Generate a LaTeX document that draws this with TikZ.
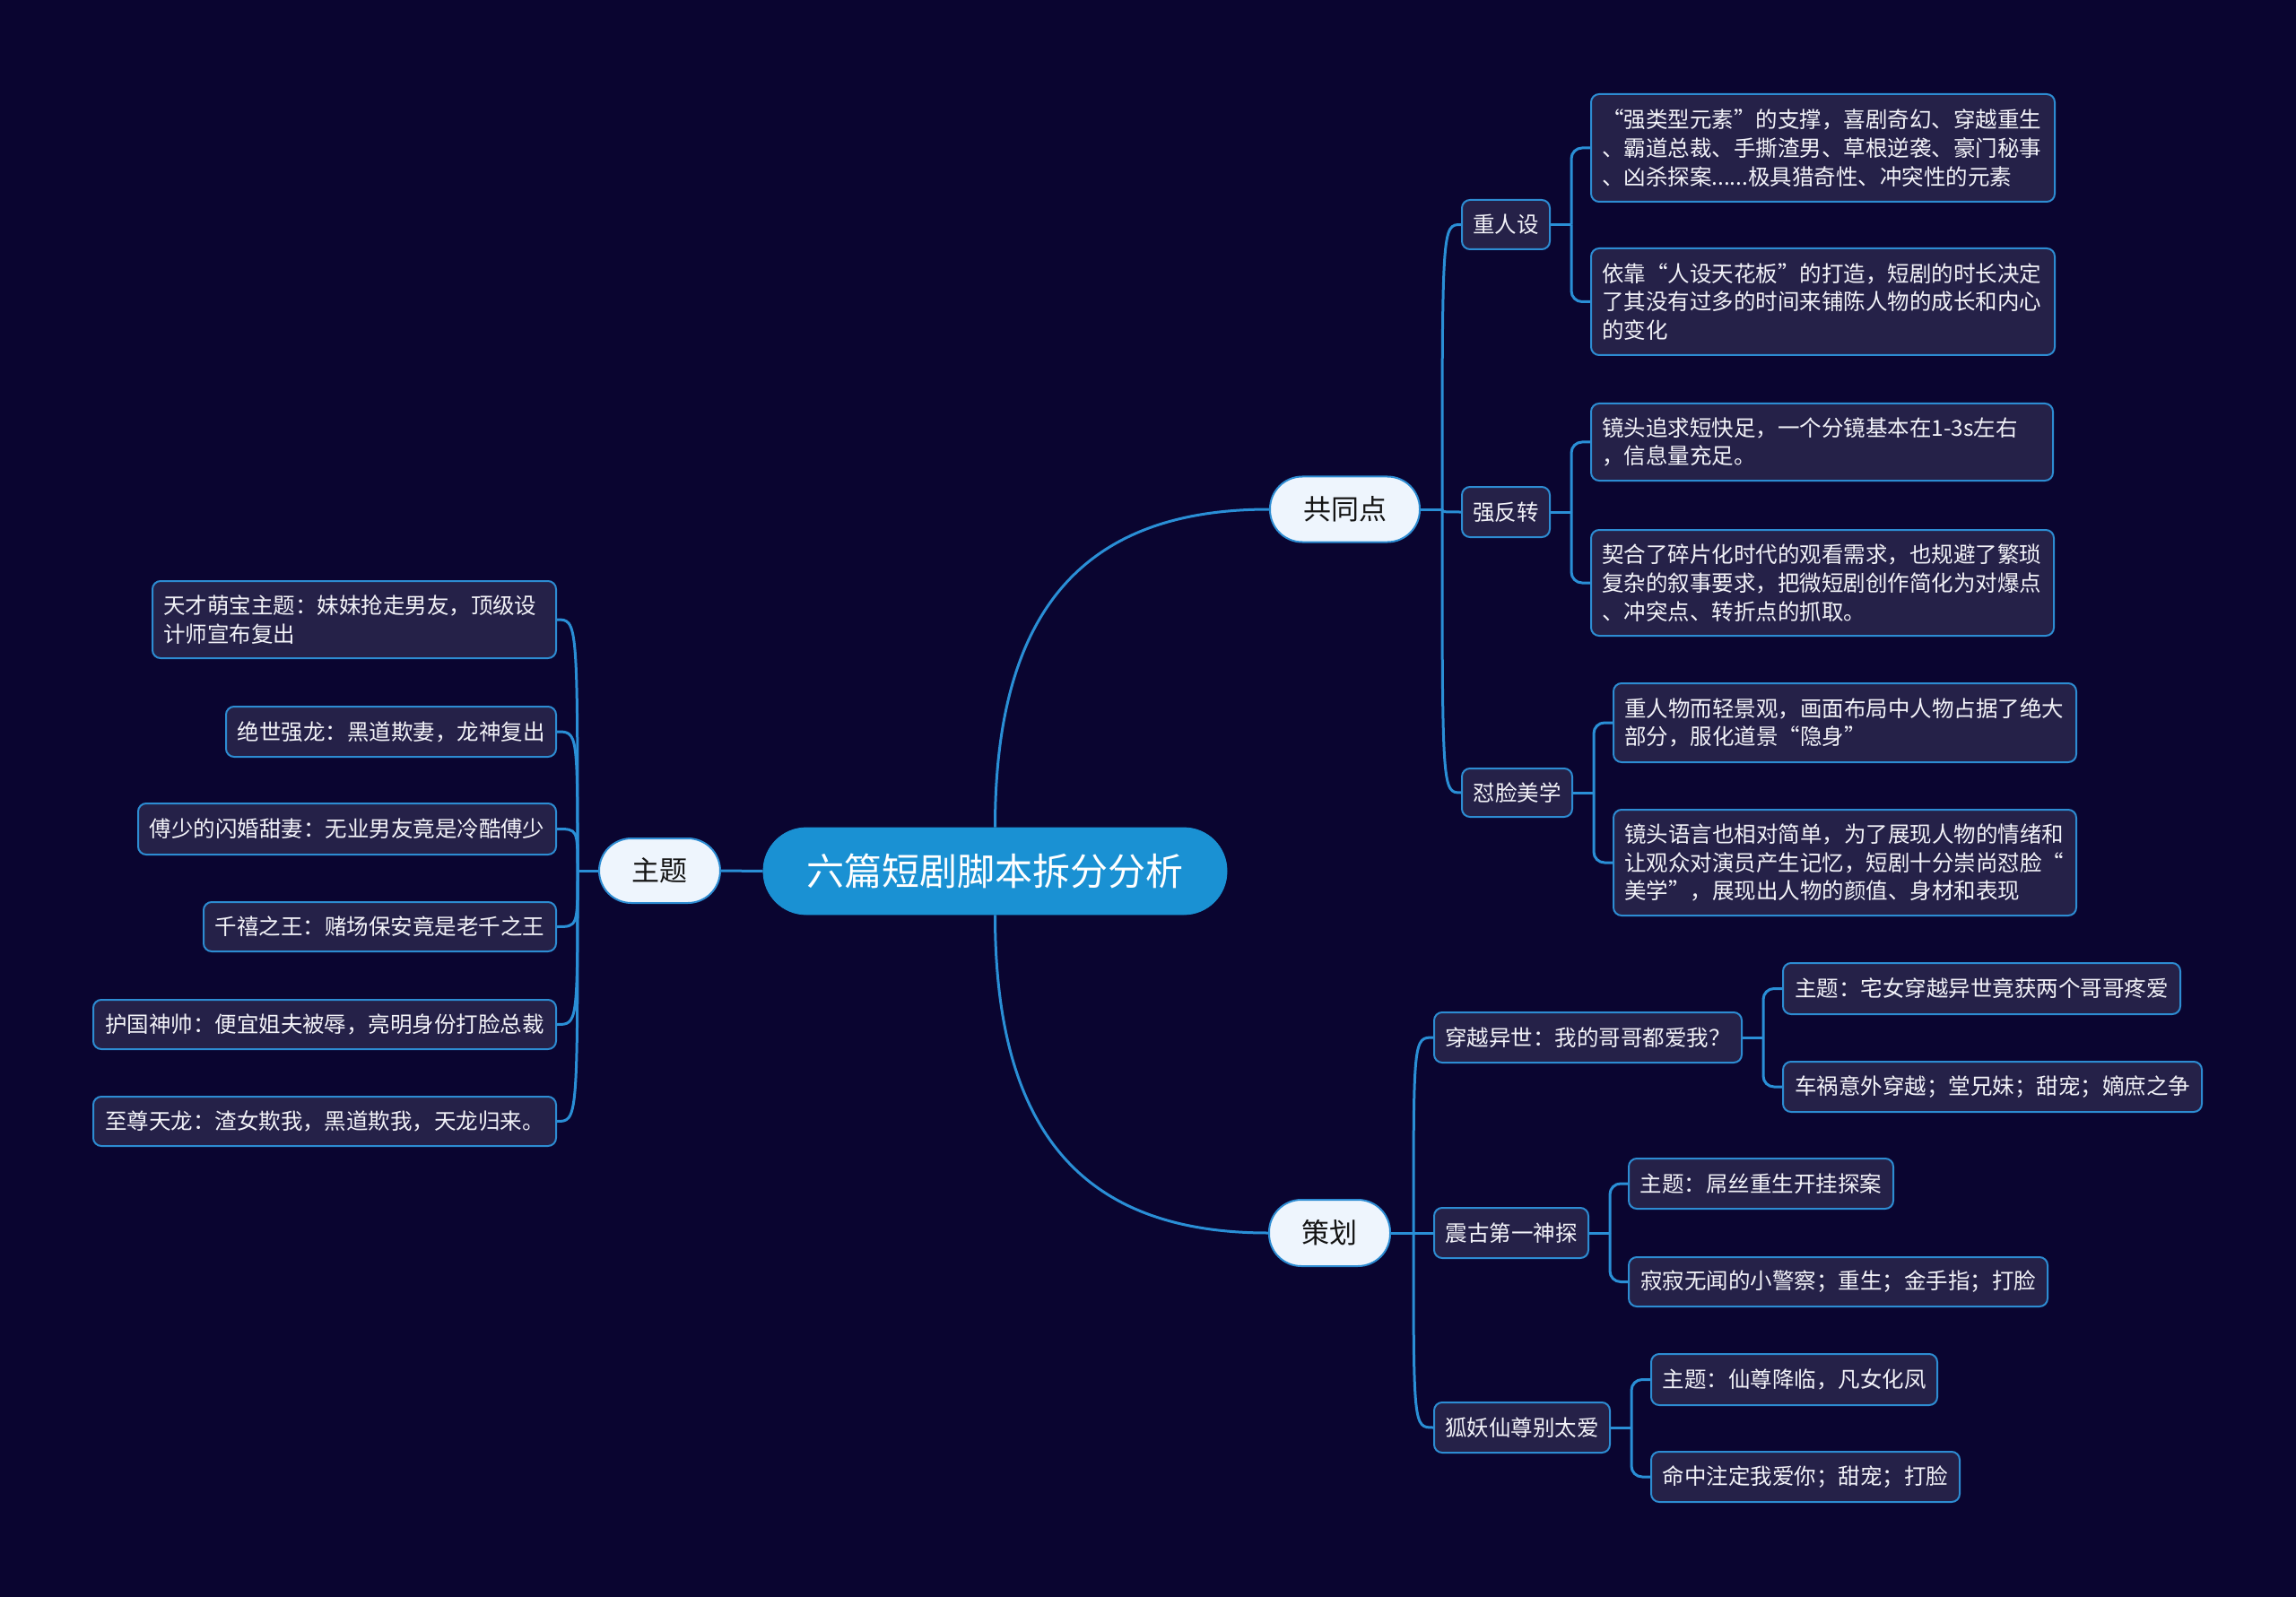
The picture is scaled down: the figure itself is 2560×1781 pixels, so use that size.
\documentclass[tikz,border=0pt]{standalone}
\usepackage{fontspec}
\setmainfont{Noto Sans CJK SC}
\usetikzlibrary{calc}
\definecolor{bgc}{HTML}{0A0530}
\definecolor{leaff}{HTML}{252148}
\definecolor{bordc}{HTML}{2D8CD2}
\definecolor{linec}{HTML}{2A8FD6}
\definecolor{rootf}{HTML}{1A91D3}
\definecolor{lvlf}{HTML}{EEF5FD}
\definecolor{lvlt}{HTML}{141414}
\definecolor{leaft}{HTML}{F2F2F8}
\tikzset{
  conn/.style={draw=linec, line width=1.5pt},
  elbow/.style={draw=linec, line width=1.5pt, rounded corners=6pt},
  leaf/.style={draw=bordc, line width=1pt, fill=leaff, rounded corners=4.5pt, text=leaft,
    font=\fontsize{12.25}{15.85}\selectfont, align=left, inner xsep=6pt, inner ysep=3pt},
  lvlone/.style={draw=bordc, line width=1pt, fill=lvlf, text=lvlt,
    font=\fontsize{15.5}{18}\selectfont, inner sep=0pt},
  rootn/.style={fill=rootf, draw=rootf, rounded corners=24pt, text=white,
    font=\fontsize{21}{25}\selectfont, inner sep=0pt},
}
\begin{document}
\begin{tikzpicture}[x=0.5pt,y=-0.5pt]
\fill[bgc] (0,0) rectangle (2560,1781);
\useasboundingbox (0,0) rectangle (2560,1781);

% root and first level
\node[rootn, minimum width=258.5pt, minimum height=48.5pt] (root) at (1109.5,971.5) {六篇短剧脚本拆分分析};
\node[lvlone, rounded corners=18pt, minimum width=83.5pt, minimum height=36.5pt] (gtd) at (1499.5,568) {共同点};
\node[lvlone, rounded corners=18pt, minimum width=67.5pt, minimum height=37pt] (ch) at (1482.5,1375) {策划};
\node[lvlone, rounded corners=18pt, minimum width=67.5pt, minimum height=36pt] (zt) at (735.5,971) {主题};

% left leaves
\node[leaf, anchor=east, text width=213pt, minimum height=43pt] (l1) at (621,691) {天才萌宝主题：妹妹抢走男友，顶级设\\计师宣布复出};
\node[leaf, anchor=east, minimum width=184pt, minimum height=28pt] (l2) at (621,816) {绝世强龙：黑道欺妻，龙神复出};
\node[leaf, anchor=east, minimum width=233pt, minimum height=28.5pt] (l3) at (621,924.5) {傅少的闪婚甜妻：无业男友竟是冷酷傅少};
\node[leaf, anchor=east, minimum width=196.5pt, minimum height=27.5pt] (l4) at (621,1033.5) {千禧之王：赌场保安竟是老千之王};
\node[leaf, anchor=east, minimum width=258pt, minimum height=27.5pt] (l5) at (621,1142.5) {护国神帅：便宜姐夫被辱，亮明身份打脸总裁};
\node[leaf, anchor=east, minimum width=258pt, minimum height=27.5pt] (l6) at (621,1250.5) {至尊天龙：渣女欺我，黑道欺我，天龙归来。};

% 共同点 children
\node[leaf, anchor=west, minimum width=49pt, minimum height=27.5pt] (rs) at (1629,250.5) {重人设};
\node[leaf, anchor=west, minimum width=49pt, minimum height=28pt] (fz) at (1629,571) {强反转};
\node[leaf, anchor=west, minimum width=61.5pt, minimum height=27pt] (dl) at (1629,884) {怼脸美学};

\node[leaf, anchor=west, text width=246.5pt, minimum height=60pt] (a1) at (1773,165) {“强类型元素”的支撑，喜剧奇幻、穿越重生\\、霸道总裁、手撕渣男、草根逆袭、豪门秘事\\、凶杀探案......极具猎奇性、冲突性的元素};
\node[leaf, anchor=west, text width=246.5pt, minimum height=59.5pt] (a2) at (1773,336.5) {依靠“人设天花板”的打造，短剧的时长决定\\了其没有过多的时间来铺陈人物的成长和内心\\的变化};
\node[leaf, anchor=west, text width=245.5pt, minimum height=43pt] (b1) at (1773,493) {镜头追求短快足，一个分镜基本在1-3s左右\\，信息量充足。};
\node[leaf, anchor=west, text width=246pt, minimum height=59pt] (b2) at (1773,650) {契合了碎片化时代的观看需求，也规避了繁琐\\复杂的叙事要求，把微短剧创作简化为对爆点\\、冲突点、转折点的抓取。};
\node[leaf, anchor=west, text width=246pt, minimum height=44pt] (c1) at (1798,806) {重人物而轻景观，画面布局中人物占据了绝大\\部分，服化道景“隐身”};
\node[leaf, anchor=west, text width=246pt, minimum height=59pt] (c2) at (1798,962) {镜头语言也相对简单，为了展现人物的情绪和\\让观众对演员产生记忆，短剧十分崇尚怼脸“\\美学”，展现出人物的颜值、身材和表现};

% 策划 children
\node[leaf, anchor=west, minimum width=171.5pt, minimum height=28pt] (cy) at (1598,1157) {穿越异世：我的哥哥都爱我？};
\node[leaf, anchor=west, minimum width=86pt, minimum height=28pt] (zg) at (1598,1375) {震古第一神探};
\node[leaf, anchor=west, minimum width=98pt, minimum height=28pt] (hy) at (1598,1592) {狐妖仙尊别太爱};

\node[leaf, anchor=west, minimum width=221.5pt, minimum height=28.5pt] (d1) at (1987,1102.5) {主题：宅女穿越异世竟获两个哥哥疼爱};
\node[leaf, anchor=west, minimum width=233.5pt, minimum height=28pt] (d2) at (1987,1212) {车祸意外穿越；堂兄妹；甜宠；嫡庶之争};
\node[leaf, anchor=west, minimum width=147.5pt, minimum height=28pt] (e1) at (1815,1320) {主题：屌丝重生开挂探案};
\node[leaf, anchor=west, minimum width=233.5pt, minimum height=27.5pt] (e2) at (1815,1429.5) {寂寂无闻的小警察；重生；金手指；打脸};
\node[leaf, anchor=west, minimum width=159.5pt, minimum height=28.5pt] (f1) at (1840,1538.5) {主题：仙尊降临，凡女化凤};
\node[leaf, anchor=west, minimum width=172pt, minimum height=28pt] (f2) at (1840,1647) {命中注定我爱你；甜宠；打脸};

% connectors: root
\draw[conn] (root.north) .. controls +(0,-250) and +(-200,0) .. (gtd.west);
\draw[conn] (root.south) .. controls +(0,250) and +(-200,0) .. (ch.west);
\draw[conn] (root.west) -- (zt.east);

% 主题 fan
\coordinate (zf) at ($(zt.west)+(-23,0)$);
\draw[conn] (zt.west) -- (zf);
\foreach \n in {l1,l2,l3,l4,l5,l6}
  \draw[conn] (zf) .. controls (zf |- \n.east) .. (\n.east);

% 共同点 fan
\coordinate (gf) at ($(gtd.east)+(24,0)$);
\draw[conn] (gtd.east) -- (gf);
\foreach \n in {rs,fz,dl}
  \draw[conn] (gf) .. controls (gf |- \n.west) .. (\n.west);

% 策划 fan
\coordinate (cf) at ($(ch.east)+(25,0)$);
\draw[conn] (ch.east) -- (cf);
\foreach \n in {cy,zg,hy}
  \draw[conn] (cf) .. controls (cf |- \n.west) .. (\n.west);

% third level elbows
\foreach \p/\a/\b in {rs/a1/a2, fz/b1/b2, dl/c1/c2, cy/d1/d2, zg/e1/e2, hy/f1/f2}{
  \coordinate (\p f) at ($(\p.east)+(23,0)$);
  \draw[conn] (\p.east) -- (\p f);
  \draw[elbow] (\p f) |- (\a.west);
  \draw[elbow] (\p f) |- (\b.west);
}
\end{tikzpicture}
\end{document}
